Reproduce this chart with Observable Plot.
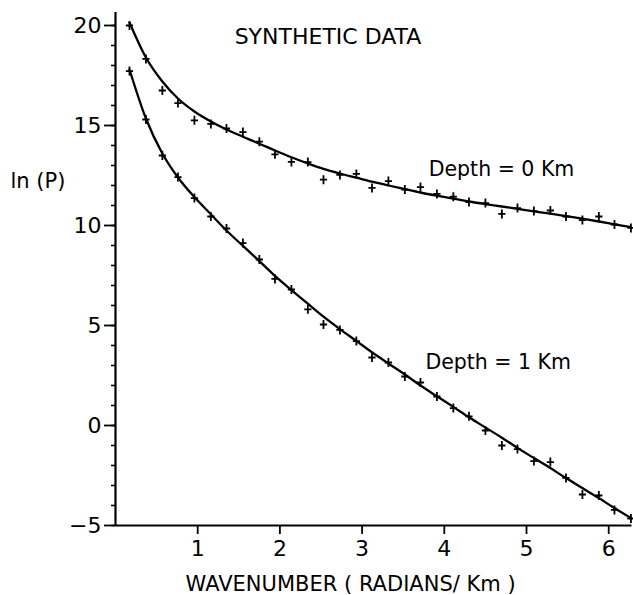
<!DOCTYPE html>
<html><head><meta charset="utf-8">
<script src="https://cdn.jsdelivr.net/npm/d3@7"></script>
<script src="https://cdn.jsdelivr.net/npm/@observablehq/plot@0.6"></script>
<style>body{margin:0;background:#fff} svg{display:block}</style>
</head><body><div id="chart"></div>
<script>
// Wavenumber (radians/Km) of each synthetic sample
const wavenumber = [0.17, 0.37, 0.57, 0.76, 0.96, 1.16, 1.35, 1.55, 1.75, 1.94, 2.14, 2.34, 2.53, 2.73, 2.93, 3.12,
                    3.32, 3.52, 3.71, 3.91, 4.11, 4.30, 4.50, 4.70, 4.89, 5.09, 5.29, 5.48, 5.68, 5.88, 6.07, 6.27];
// ln(P) of synthetic data points (crosses)
const depth0Points = [20.0, 18.33, 16.75, 16.12, 15.26, 15.08, 14.85, 14.67, 14.19, 13.56, 13.18, 13.17, 12.29, 12.53, 12.58, 11.88,
                      12.22, 11.8, 11.92, 11.58, 11.44, 11.17, 11.12, 10.58, 10.87, 10.72, 10.75, 10.45, 10.27, 10.45, 10.05, 9.88];
const depth1Points = [17.72, 15.3, 13.5, 12.42, 11.37, 10.45, 9.85, 9.12, 8.3, 7.33, 6.8, 5.81, 5.05, 4.78, 4.22, 3.4,
                      3.15, 2.45, 2.15, 1.45, 0.87, 0.46, -0.25, -1.0, -1.18, -1.78, -1.83, -2.62, -3.45, -3.5, -4.22, -4.65];
// ln(P) of fitted curves (solid lines), read at the same wavenumbers
const depth0Curve = [20.15, 18.4, 17.2, 16.35, 15.7, 15.2, 14.8, 14.44, 14.09, 13.75, 13.41, 13.1, 12.83, 12.6, 12.39, 12.19,
                     12.0, 11.82, 11.65, 11.49, 11.34, 11.2, 11.07, 10.95, 10.83, 10.71, 10.59, 10.47, 10.34, 10.2, 10.06, 9.92];
const depth1Curve = [17.8, 15.35, 13.6, 12.4, 11.42, 10.56, 9.75, 8.98, 8.22, 7.48, 6.77, 6.09, 5.44, 4.82, 4.23, 3.66,
                     3.1, 2.55, 2.0, 1.46, 0.93, 0.41, -0.1, -0.61, -1.12, -1.63, -2.13, -2.63, -3.13, -3.63, -4.13, -4.63];

const xTicks = [1, 2, 3, 4, 5, 6];
const yTicks = [-5, 0, 5, 10, 15, 20];
const yMinorTicks = [-5,-4,-3,-2,-1,0,1,2,3,4,5,6,7,8,9,10,11,12,13,14,15,16,17,18,19,20];
const xAxisAt = [-5];
const yAxisAt = [0];

const titleText = "SYNTHETIC DATA";
const depthText = ["Depth = 0 Km", "Depth = 1 Km"];
const depthX = [3.81, 3.77];
const depthY = [12.5, 2.85];
const xLabel = "WAVENUMBER ( RADIANS/ Km )";
const yLabel = "ln (P)";

const pts0 = wavenumber.map((k, i) => ({k, v: depth0Points[i]}));
const pts1 = wavenumber.map((k, i) => ({k, v: depth1Points[i]}));
const crv0 = wavenumber.map((k, i) => ({k, v: depth0Curve[i]}));
const crv1 = wavenumber.map((k, i) => ({k, v: depth1Curve[i]}));
const depthNotes = depthText.map((t, i) => ({t, x: depthX[i], y: depthY[i]}));

const cross = {
  draw(context, size) {
    const r = Math.sqrt(size / Math.PI);
    context.moveTo(-r * 0.8, 0); context.lineTo(r * 0.8, 0);
    context.moveTo(0, -r); context.lineTo(0, r);
  }
};

const chart = Plot.plot({
  width: 633, height: 595,
  marginLeft: 115, marginRight: 1.5, marginTop: 12, marginBottom: 70,
  style: {fontFamily: "'DejaVu Sans', sans-serif", fontSize: "22px", color: "black", background: "white"},
  x: {domain: [0, 6.2832]},
  y: {domain: [-5, 20.65]},
  marks: [
    Plot.axisY({ticks: yMinorTicks, tickSize: 4, tickFormat: () => "", label: null, strokeWidth: 1.6}),
    Plot.axisY({ticks: yTicks, tickSize: 11, tickPadding: 3, label: null, strokeWidth: 1.8, fontSize: 22,
                tickFormat: d => d < 0 ? "\u2212" + (-d) : String(d)}),
    Plot.axisX({ticks: xTicks, tickSize: 9, tickPadding: 6, label: null, strokeWidth: 1.8, fontSize: 22,
                tickFormat: d => String(d)}),
    Plot.ruleX(yAxisAt, {x: d => d, stroke: "black", strokeWidth: 2.2}),
    Plot.ruleY(xAxisAt, {y: d => d, stroke: "black", strokeWidth: 2.2}),
    Plot.line(crv0, {x: "k", y: "v", curve: "monotone-x", strokeWidth: 2.3}),
    Plot.line(crv1, {x: "k", y: "v", curve: "monotone-x", strokeWidth: 2.3}),
    Plot.dot(pts0, {x: "k", y: "v", symbol: cross, r: 4.5, stroke: "black", strokeWidth: 1.8, fill: "none"}),
    Plot.dot(pts1, {x: "k", y: "v", symbol: cross, r: 4.5, stroke: "black", strokeWidth: 1.8, fill: "none"}),
    Plot.text([titleText], {x: 2.585, y: 19.1, textAnchor: "middle", lineAnchor: "bottom", fontSize: 22}),
    Plot.text(depthNotes, {x: "x", y: "y", text: "t", textAnchor: "start", lineAnchor: "bottom", fontSize: 20.5}),
    Plot.text([yLabel], {frameAnchor: "left", y: 11.9, dx: -105, textAnchor: "start", lineAnchor: "bottom", fontSize: 21}),
    Plot.text([xLabel], {x: 2.86, frameAnchor: "bottom", dy: 65, textAnchor: "middle", lineAnchor: "bottom", fontSize: 21})
  ]
});
document.getElementById("chart").appendChild(chart);
</script>
</body></html>
